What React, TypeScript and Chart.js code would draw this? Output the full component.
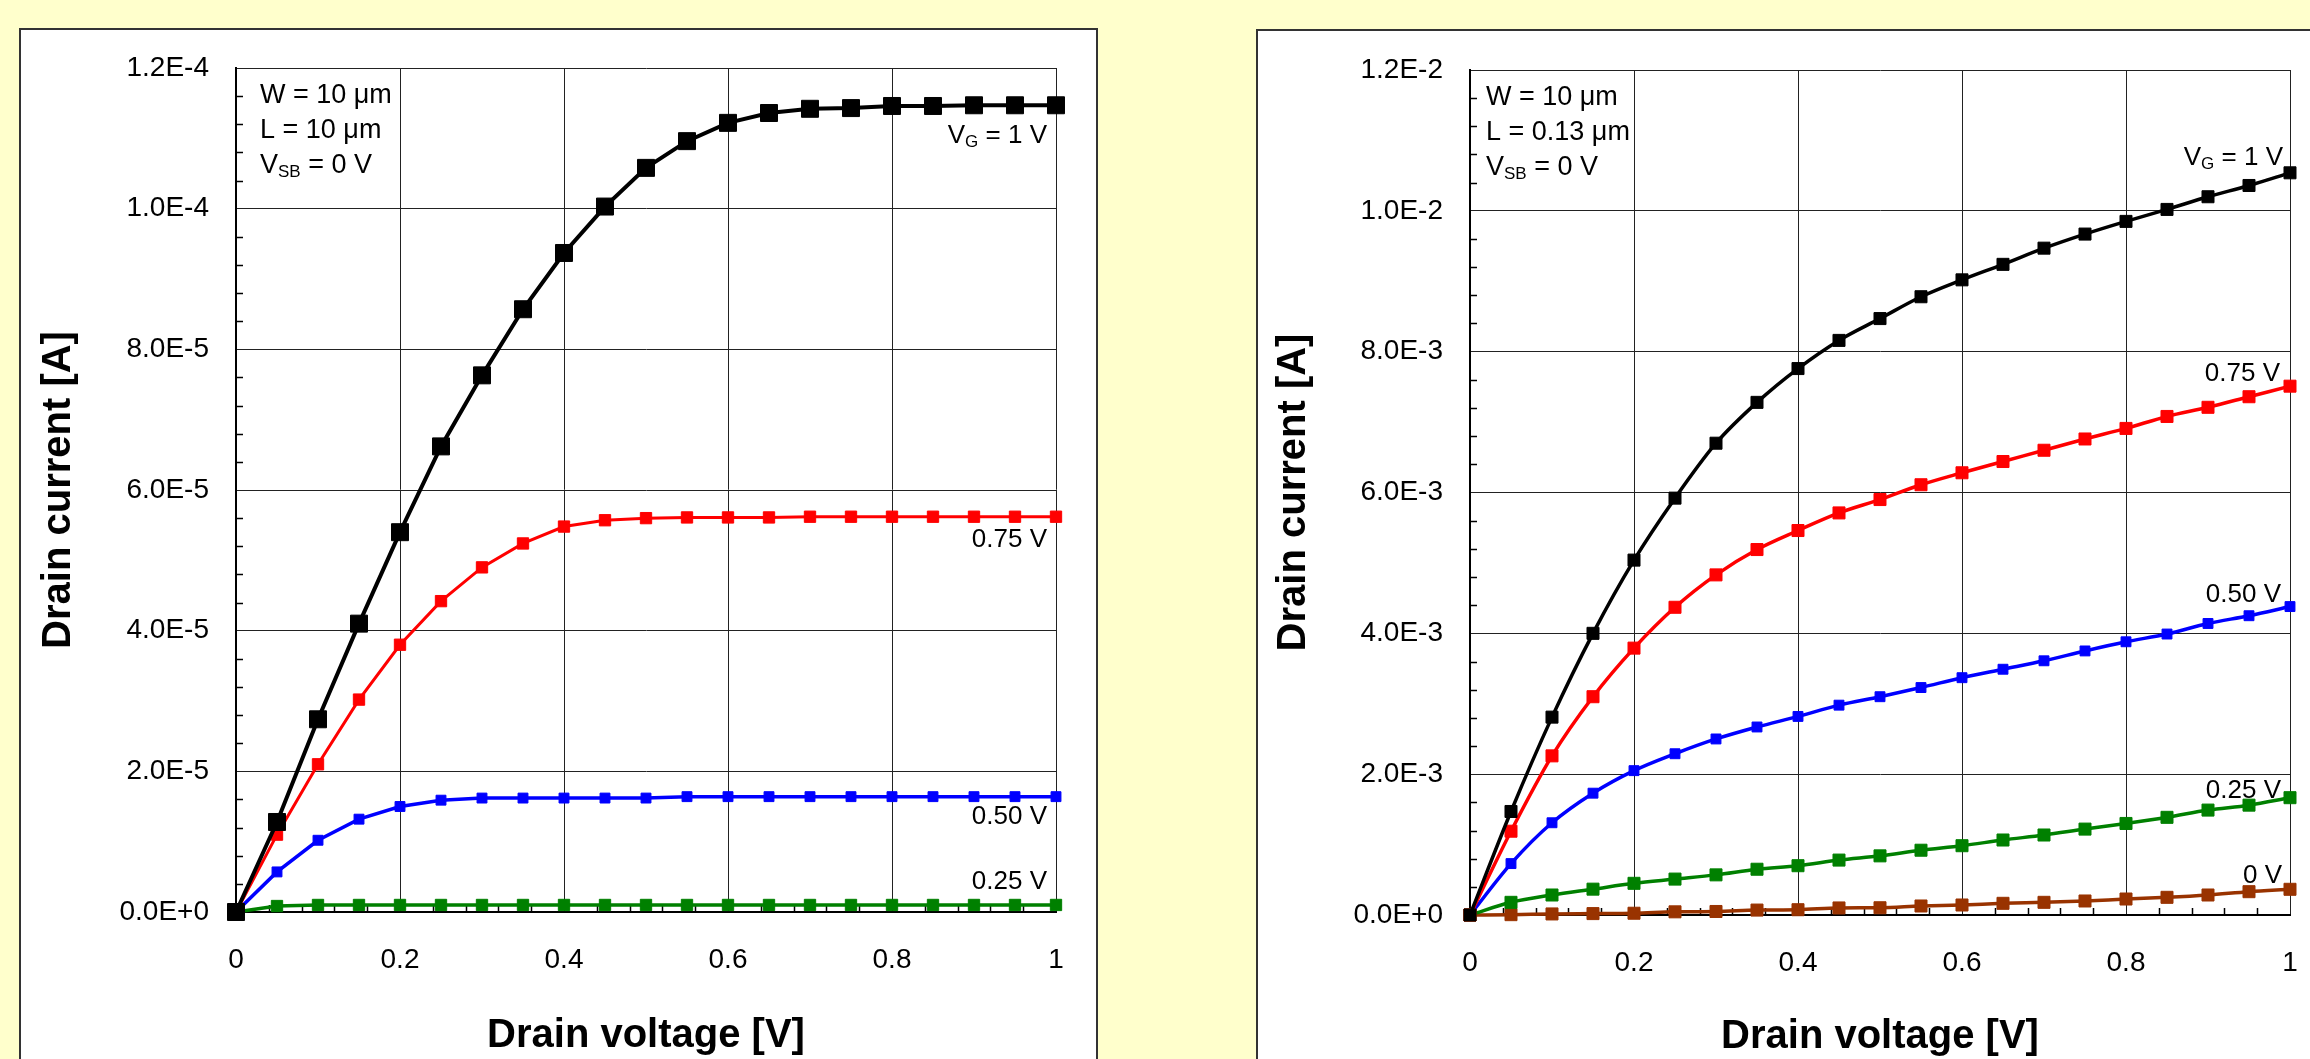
import React, { useEffect, useRef } from 'react';
import { Chart, registerables } from 'chart.js';

Chart.register(...registerables);

const FONT = '"Liberation Sans", Arial, Helvetica, sans-serif';

// ---------- data ----------
const drainVoltage = [0, 0.05, 0.1, 0.15, 0.2, 0.25, 0.3, 0.35, 0.4, 0.45, 0.5, 0.55, 0.6, 0.65, 0.7, 0.75, 0.8, 0.85, 0.9, 0.95, 1];

// Left chart: W = 10 um, L = 10 um
const leftVg100 = [0, 1.28e-5, 2.74e-5, 4.1e-5, 5.4e-5, 6.62e-5, 7.63e-5, 8.57e-5, 9.37e-5, 1.003e-4, 1.058e-4, 1.096e-4, 1.122e-4, 1.136e-4, 1.142e-4, 1.143e-4, 1.146e-4, 1.146e-4, 1.147e-4, 1.147e-4, 1.147e-4];
const leftVg075 = [0, 1.1e-5, 2.1e-5, 3.02e-5, 3.8e-5, 4.42e-5, 4.9e-5, 5.24e-5, 5.48e-5, 5.57e-5, 5.6e-5, 5.61e-5, 5.61e-5, 5.61e-5, 5.62e-5, 5.62e-5, 5.62e-5, 5.62e-5, 5.62e-5, 5.62e-5, 5.62e-5];
const leftVg050 = [0, 5.7e-6, 1.02e-5, 1.32e-5, 1.5e-5, 1.59e-5, 1.62e-5, 1.62e-5, 1.62e-5, 1.62e-5, 1.62e-5, 1.64e-5, 1.64e-5, 1.64e-5, 1.64e-5, 1.64e-5, 1.64e-5, 1.64e-5, 1.64e-5, 1.64e-5, 1.64e-5];
const leftVg025 = [0, 8.5e-7, 1.0e-6, 1.0e-6, 1.0e-6, 1.0e-6, 1.0e-6, 1.0e-6, 1.0e-6, 1.0e-6, 1.0e-6, 1.0e-6, 1.0e-6, 1.0e-6, 1.0e-6, 1.0e-6, 1.0e-6, 1.0e-6, 1.0e-6, 1.0e-6, 1.0e-6];

// Right chart: W = 10 um, L = 0.13 um
const rightVg100 = [0, 1.47e-3, 2.81e-3, 4.0e-3, 5.04e-3, 5.92e-3, 6.7e-3, 7.28e-3, 7.76e-3, 8.16e-3, 8.47e-3, 8.78e-3, 9.02e-3, 9.24e-3, 9.47e-3, 9.67e-3, 9.85e-3, 1.002e-2, 1.02e-2, 1.036e-2, 1.054e-2];
const rightVg075 = [0, 1.19e-3, 2.26e-3, 3.1e-3, 3.79e-3, 4.37e-3, 4.83e-3, 5.19e-3, 5.46e-3, 5.71e-3, 5.9e-3, 6.11e-3, 6.28e-3, 6.44e-3, 6.6e-3, 6.76e-3, 6.91e-3, 7.08e-3, 7.21e-3, 7.36e-3, 7.51e-3];
const rightVg050 = [0, 7.3e-4, 1.31e-3, 1.73e-3, 2.05e-3, 2.29e-3, 2.5e-3, 2.67e-3, 2.82e-3, 2.98e-3, 3.1e-3, 3.23e-3, 3.37e-3, 3.49e-3, 3.61e-3, 3.75e-3, 3.88e-3, 3.99e-3, 4.14e-3, 4.25e-3, 4.38e-3];
const rightVg025 = [0, 1.8e-4, 2.84e-4, 3.67e-4, 4.5e-4, 5.1e-4, 5.7e-4, 6.5e-4, 7.0e-4, 7.8e-4, 8.4e-4, 9.2e-4, 9.84e-4, 1.065e-3, 1.136e-3, 1.22e-3, 1.3e-3, 1.387e-3, 1.49e-3, 1.56e-3, 1.666e-3];
const rightVg000 = [0, 5e-6, 1.5e-5, 2e-5, 2.5e-5, 4.5e-5, 5e-5, 7e-5, 7.5e-5, 1.0e-4, 1.03e-4, 1.28e-4, 1.42e-4, 1.66e-4, 1.8e-4, 1.99e-4, 2.27e-4, 2.51e-4, 2.84e-4, 3.31e-4, 3.65e-4];

// ticks
const xTickValues = [0, 0.2, 0.4, 0.6, 0.8, 1];
const xTickLabels = ['0', '0.2', '0.4', '0.6', '0.8', '1'];
const leftYTickValues = [0, 2e-5, 4e-5, 6e-5, 8e-5, 1e-4, 1.2e-4];
const leftYTickLabels = ['0.0E+0', '2.0E-5', '4.0E-5', '6.0E-5', '8.0E-5', '1.0E-4', '1.2E-4'];
const rightYTickValues = [0, 2e-3, 4e-3, 6e-3, 8e-3, 1e-2, 1.2e-2];
const rightYTickLabels = ['0.0E+0', '2.0E-3', '4.0E-3', '6.0E-3', '8.0E-3', '1.0E-2', '1.2E-2'];

// text
const xTitle = 'Drain voltage [V]';
const yTitle = 'Drain current [A]';
const leftParams = ['W = 10 μm', 'L = 10 μm', 'V_{SB} = 0 V'];
const rightParams = ['W = 10 μm', 'L = 0.13 μm', 'V_{SB} = 0 V'];
const leftCurveLabels = ['V_{G} = 1 V', '0.75 V', '0.50 V', '0.25 V'];
const leftCurveLabelY = [1.093e-4, 5.19e-5, 1.25e-5, 3.2e-6];
const rightCurveLabels = ['V_{G} = 1 V', '0.75 V', '0.50 V', '0.25 V', '0 V'];
const rightCurveLabelY = [1.065e-2, 7.59e-3, 4.45e-3, 1.66e-3, 4.6e-4];

// ---------- helpers ----------
function splitRich(text: string) {
  const parts: { t: string; sub: boolean }[] = [];
  const re = /_\{([^}]*)\}/g;
  let last = 0;
  let m: RegExpExecArray | null;
  while ((m = re.exec(text))) {
    if (m.index > last) parts.push({ t: text.slice(last, m.index), sub: false });
    parts.push({ t: m[1], sub: true });
    last = m.index + m[0].length;
  }
  if (last < text.length) parts.push({ t: text.slice(last), sub: false });
  return parts;
}

function drawRich(ctx: CanvasRenderingContext2D, text: string, x: number, y: number, size: number, align: 'left' | 'right') {
  const parts = splitRich(text);
  const subSize = Math.round(size * 0.64);
  const fontMain = `${size}px ${FONT}`;
  const fontSub = `${subSize}px ${FONT}`;
  let total = 0;
  for (const p of parts) {
    ctx.font = p.sub ? fontSub : fontMain;
    total += ctx.measureText(p.t).width;
  }
  let cx = align === 'right' ? x - total : x;
  ctx.textAlign = 'left';
  ctx.textBaseline = 'alphabetic';
  ctx.fillStyle = '#000';
  for (const p of parts) {
    ctx.font = p.sub ? fontSub : fontMain;
    ctx.fillText(p.t, cx, p.sub ? y + 4 : y);
    cx += ctx.measureText(p.t).width;
  }
}

interface SeriesDef { values: number[]; color: string; width: number; radius: number; name: string }

interface ChartDef {
  series: SeriesDef[];
  yMax: number;
  yTickValues: number[];
  yTickLabels: string[];
  yMinorStep: number;
  xMinorStep: number;
  params: string[];
  paramOffsetX: number;
  curveLabels: string[];
  curveLabelY: number[];
  curveLabelRight: number[];
  smooth: boolean;
  canvasW: number;
  canvasH: number;
  area: { left: number; top: number; right: number; bottom: number };
  yTitlePad: number;
  xTitlePad: number;
}

function buildConfig(def: ChartDef): any {
  const decor = {
    id: 'decor',
    beforeDatasetsDraw(chart: any) {
      const { ctx, chartArea, scales } = chart;
      const xs = scales.x;
      const ys = scales.y;
      ctx.save();
      ctx.strokeStyle = '#000';
      ctx.lineWidth = 1.5;
      ctx.beginPath();
      const nY = Math.round(def.yMax / def.yMinorStep);
      for (let i = 1; i < nY; i++) {
        if (i % 5 === 0) continue;
        const py = Math.round(ys.getPixelForValue(i * def.yMinorStep)) + 0.5;
        ctx.moveTo(chartArea.left, py);
        ctx.lineTo(chartArea.left + 7, py);
      }
      const nX = Math.round(1 / def.xMinorStep);
      for (let i = 1; i < nX; i++) {
        if (i % 5 === 0) continue;
        const px = Math.round(xs.getPixelForValue(i * def.xMinorStep)) + 0.5;
        ctx.moveTo(px, chartArea.bottom);
        ctx.lineTo(px, chartArea.bottom - 7);
      }
      ctx.stroke();
      ctx.restore();
    },
    afterDatasetsDraw(chart: any) {
      const { ctx, chartArea, scales } = chart;
      const xs = scales.x;
      const ys = scales.y;
      ctx.save();
      def.params.forEach((t, i) => {
        drawRich(ctx, t, chartArea.left + def.paramOffsetX, chartArea.top + 35 + i * 35, 27, 'left');
      });
      def.curveLabels.forEach((t, i) => {
        drawRich(ctx, t, xs.getPixelForValue(1) - def.curveLabelRight[i], ys.getPixelForValue(def.curveLabelY[i]), 26, 'right');
      });
      ctx.restore();
    },
  };

  return {
    type: 'line',
    data: {
      datasets: def.series.map((s) => ({
        label: s.name,
        data: drainVoltage.map((x, i) => ({ x, y: s.values[i] })),
        borderColor: s.color,
        backgroundColor: s.color,
        pointBackgroundColor: s.color,
        pointBorderColor: s.color,
        borderWidth: s.width,
        pointStyle: 'rect',
        pointRadius: s.radius,
        pointHoverRadius: s.radius,
        pointBorderWidth: 1,
        tension: def.smooth ? 0.35 : 0,
        cubicInterpolationMode: def.smooth ? 'monotone' : 'default',
        clip: false,
      })),
    },
    options: {
      animation: false,
      responsive: false,
      events: [],
      layout: {
        padding: { left: 0, top: def.area.top, right: def.canvasW - def.area.right, bottom: 0 },
      },
      plugins: {
        legend: { display: false },
        tooltip: { enabled: false },
      },
      scales: {
        x: {
          type: 'linear',
          min: 0,
          max: 1,
          afterBuildTicks: (scale: any) => {
            scale.ticks = xTickValues.map((v) => ({ value: v }));
          },
          afterFit: (scale: any) => {
            scale.height = def.canvasH - def.area.bottom;
            scale.paddingLeft = 0;
            scale.paddingRight = 0;
          },
          ticks: {
            callback: (_v: any, i: number) => xTickLabels[i],
            font: { family: FONT, size: 28 },
            color: '#000',
            padding: 31,
            autoSkip: false,
            maxRotation: 0,
          },
          grid: { color: '#222', lineWidth: 1, drawTicks: false },
          border: { display: true, color: '#000', width: 2 },
          title: {
            display: true,
            text: xTitle,
            color: '#000',
            font: { family: FONT, size: 40, weight: 'bold' },
            padding: { top: 0, bottom: def.xTitlePad },
          },
        },
        y: {
          type: 'linear',
          min: 0,
          max: def.yMax,
          afterBuildTicks: (scale: any) => {
            scale.ticks = def.yTickValues.map((v) => ({ value: v }));
          },
          afterFit: (scale: any) => {
            scale.width = def.area.left;
            scale.paddingTop = 0;
            scale.paddingBottom = 0;
          },
          ticks: {
            callback: (_v: any, i: number) => def.yTickLabels[i],
            font: { family: FONT, size: 28 },
            color: '#000',
            padding: 27,
            autoSkip: false,
          },
          grid: { color: '#222', lineWidth: 1, drawTicks: false },
          border: { display: true, color: '#000', width: 2 },
          title: {
            display: true,
            text: yTitle,
            color: '#000',
            font: { family: FONT, size: 40, weight: 'bold' },
            padding: { top: def.yTitlePad, bottom: 0 },
          },
        },
      },
    },
    plugins: [decor],
  };
}

const leftDef: ChartDef = {
  series: [
    { name: 'VG = 1 V', values: leftVg100, color: '#000000', width: 4, radius: 12 },
    { name: '0.75 V', values: leftVg075, color: '#FF0000', width: 3, radius: 8 },
    { name: '0.50 V', values: leftVg050, color: '#0000FF', width: 3.5, radius: 7 },
    { name: '0.25 V', values: leftVg025, color: '#008000', width: 3.5, radius: 8 },
  ],
  yMax: 1.2e-4,
  yTickValues: leftYTickValues,
  yTickLabels: leftYTickLabels,
  yMinorStep: 4e-6,
  xMinorStep: 0.04,
  params: leftParams,
  paramOffsetX: 24,
  curveLabels: leftCurveLabels,
  curveLabelY: leftCurveLabelY,
  curveLabelRight: [9, 9, 9, 9],
  smooth: false,
  canvasW: 1075,
  canvasH: 1100,
  area: { left: 215, top: 38, right: 1035, bottom: 882 },
  yTitlePad: 14,
  xTitlePad: 70,
};

const rightDef: ChartDef = {
  series: [
    { name: 'VG = 1 V', values: rightVg100, color: '#000000', width: 3.5, radius: 8.5 },
    { name: '0.75 V', values: rightVg075, color: '#FF0000', width: 3.5, radius: 8.5 },
    { name: '0.50 V', values: rightVg050, color: '#0000FF', width: 3.5, radius: 7 },
    { name: '0.25 V', values: rightVg025, color: '#008000', width: 3.5, radius: 8.5 },
    { name: '0 V', values: rightVg000, color: '#993300', width: 3.5, radius: 8.5 },
  ],
  yMax: 1.2e-2,
  yTickValues: rightYTickValues,
  yTickLabels: rightYTickLabels,
  yMinorStep: 4e-4,
  xMinorStep: 0.04,
  params: rightParams,
  paramOffsetX: 16,
  curveLabels: rightCurveLabels,
  curveLabelY: rightCurveLabelY,
  curveLabelRight: [7, 10, 9, 9, 8],
  smooth: true,
  canvasW: 1052,
  canvasH: 1100,
  area: { left: 212, top: 39, right: 1032, bottom: 884 },
  yTitlePad: 12,
  xTitlePad: 70,
};

function ChartCanvas({ def, left, top }: { def: ChartDef; left: number; top: number }) {
  const ref = useRef<HTMLCanvasElement | null>(null);
  useEffect(() => {
    if (!ref.current) return;
    const chart = new Chart(ref.current, buildConfig(def));
    return () => chart.destroy();
  }, [def]);
  return (
    <canvas
      ref={ref}
      width={def.canvasW}
      height={def.canvasH}
      style={{ position: 'absolute', left, top, width: def.canvasW, height: def.canvasH }}
    />
  );
}

export default function App() {
  return (
    <div
      style={{
        position: 'absolute',
        left: 0,
        top: 0,
        width: 2310,
        height: 1059,
        overflow: 'hidden',
        background: '#FFFFCC',
      }}
    >
      <div
        style={{
          position: 'absolute',
          left: 19,
          top: 28,
          width: 1079,
          height: 1100,
          boxSizing: 'border-box',
          background: '#fff',
          border: '2px solid #333',
        }}
      />
      <div
        style={{
          position: 'absolute',
          left: 1256,
          top: 29,
          width: 1100,
          height: 1100,
          boxSizing: 'border-box',
          background: '#fff',
          border: '2px solid #333',
        }}
      />
      <ChartCanvas def={leftDef} left={21} top={30} />
      <ChartCanvas def={rightDef} left={1258} top={31} />
    </div>
  );
}
